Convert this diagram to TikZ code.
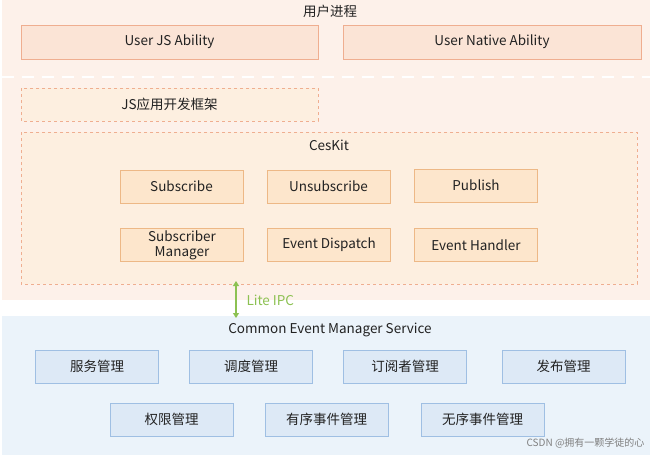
\documentclass[tikz,border=0pt]{standalone}
\usepackage{fontspec}
\setmainfont{Noto Sans CJK SC}
\usetikzlibrary{arrows.meta}

\definecolor{upbg}{HTML}{FDF1EA}
\definecolor{lowbg}{HTML}{EBF3FA}
\definecolor{orline}{HTML}{EFAE90}
\definecolor{orfill}{HTML}{FBE4D6}
\definecolor{kitfill}{HTML}{FDEFE0}
\definecolor{modfill}{HTML}{FDE6CC}
\definecolor{modline}{HTML}{EDB886}
\definecolor{blfill}{HTML}{DDE9F6}
\definecolor{blline}{HTML}{9FBFE3}
\definecolor{ipcgreen}{HTML}{8CC152}
\definecolor{txt}{HTML}{222222}

\begin{document}
\begin{tikzpicture}[x=1pt,y=-1pt,font=\fontsize{13.5}{15}\selectfont,text=txt]
  \tikzstyle{ability}=[draw=orline,fill=orfill,line width=1pt]
  \tikzstyle{frame}=[draw=orline,fill=kitfill,dashed,line width=1pt]
  \tikzstyle{module}=[draw=modline,fill=modfill,line width=1pt,
                      minimum width=123pt,minimum height=33pt,align=center,
                      inner sep=1pt,font=\fontsize{13.5}{15}\selectfont]
  \tikzstyle{service}=[draw=blline,fill=blfill,line width=1pt,
                       minimum width=123pt,minimum height=33pt]

  \useasboundingbox (0,0) rectangle (650,455);

  % backgrounds
  \fill[upbg] (2,0) rectangle (650,300);
  \fill[lowbg] (2,316) rectangle (650,455);
  \draw[white,line width=2pt,dash pattern=on 12pt off 8pt] (2,77) -- (650,77);

  % user process
  \node (userproc) at (330,11) {用户进程};
  \draw[ability] (21,25) rectangle (318,59);
  \node (userjs) at (169.5,42) {User JS Ability};
  \draw[ability] (343,25) rectangle (641,59);
  \node (usernative) at (492,42) {User Native Ability};

  % framework
  \draw[frame] (21,88) rectangle (318,121);
  \node (jsframe) at (169.5,104.5) {JS应用开发框架};
  \draw[frame] (21,132) rectangle (637,284);
  \node (ceskit) at (329,145) {CesKit};

  \node[module] (subscribe)   at (181.5,186.5) {Subscribe};
  \node[module] (unsubscribe) at (328.5,186.5) {Unsubscribe};
  \node[module] (publish)     at (476,185.5)   {Publish};
  \node[module] (submanager)  at (182,245)     {Subscriber\\Manager};
  \node[module] (dispatch)    at (329,245)     {Event Dispatch};
  \node[module] (handler)     at (476,245)     {Event Handler};

  % lite ipc
  \coordinate (ipctop) at (236,281);
  \coordinate (ipcbot) at (236,318);
  \draw[ipcgreen,line width=1.6pt,{Triangle[length=5pt,width=6pt]}-{Triangle[length=5pt,width=6pt]}]
    (ipctop) -- (ipcbot);
  \node[text=ipcgreen,anchor=west] (ipc) at (243,300) {Lite IPC};

  % service
  \node (ces) at (330,330) {Common Event Manager Service};
  \node[service] (svcmgr)   at (97,366.5)  {服务管理};
  \node[service] (schedmgr) at (251,366.5) {调度管理};
  \node[service] (submgr)   at (405,366.5) {订阅者管理};
  \node[service] (pubmgr)   at (563.5,366.5) {发布管理};
  \node[service] (permmgr)  at (171.5,419.5) {权限管理};
  \node[service] (ordmgr)   at (326.5,419.5) {有序事件管理};
  \node[service] (unordmgr) at (482.5,419.5) {无序事件管理};

  \node[anchor=east,text=gray,font=\fontsize{10}{11}\selectfont] (mark) at (648,443) {CSDN @拥有一颗学徒的心};
\end{tikzpicture}
\end{document}
